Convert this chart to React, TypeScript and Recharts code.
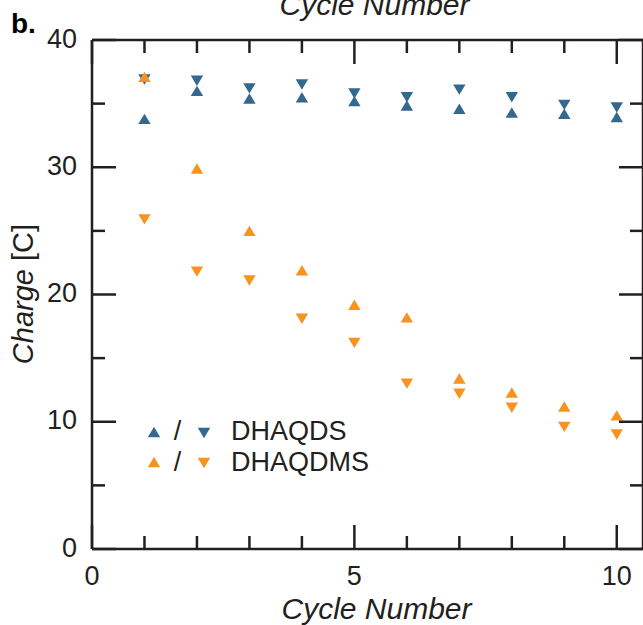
import React from "react";
import { ScatterChart, Scatter, XAxis, YAxis, Legend, Label } from "recharts";

const cycles = [1, 2, 3, 4, 5, 6, 7, 8, 9, 10];
const dhaqdsUp = [33.8, 36.0, 35.4, 35.5, 35.2, 34.85, 34.6, 34.3, 34.2, 33.95];
const dhaqdsDown = [36.9, 36.8, 36.2, 36.5, 35.8, 35.5, 36.1, 35.5, 34.9, 34.7];
const dhaqdmsUp = [37.1, 29.9, 25.0, 21.9, 19.2, 18.2, 13.4, 12.3, 11.2, 10.5];
const dhaqdmsDown = [25.9, 21.8, 21.1, 18.1, 16.2, 13.0, 12.2, 11.1, 9.6, 9.0];

const xTicks = [0, 1, 2, 3, 4, 5, 6, 7, 8, 9, 10];
const yTicks = [0, 5, 10, 15, 20, 25, 30, 35, 40];
const xLabelTicks = [0, 5, 10];
const yLabelTicks = [0, 10, 20, 30, 40];

const BLUE = "#33698f";
const ORANGE = "#f7931e";
const INK = "#231f20";
const FONT = "'Liberation Sans', Arial, Helvetica, sans-serif";

const toPoints = (ys: number[]) => cycles.map((c, i) => ({ x: c, y: ys[i] }));

const UpTri = (props: any) => {
  const { cx, cy, fill } = props;
  if (cx == null || cy == null) return null;
  const w = 6.2, h = 5.2;
  return <polygon points={`${cx},${cy - h} ${cx - w},${cy + h} ${cx + w},${cy + h}`} fill={fill} />;
};
const DownTri = (props: any) => {
  const { cx, cy, fill } = props;
  if (cx == null || cy == null) return null;
  const w = 6.2, h = 5.2;
  return <polygon points={`${cx},${cy + h} ${cx - w},${cy - h} ${cx + w},${cy - h}`} fill={fill} />;
};

const BottomTick = (props: any) => {
  const { x, y, payload } = props;
  const v = payload.value;
  const major = v % 5 === 0;
  return (
    <g>
      <line x1={x} x2={x} y1={y} y2={y - (major ? 24 : 13)} stroke={INK} strokeWidth={2.5} />
      {xLabelTicks.includes(v) && (
        <text x={x} y={y + 35.5} textAnchor="middle" fontSize={27} fontFamily={FONT} fill={INK}>
          {v}
        </text>
      )}
    </g>
  );
};
const TopTick = (props: any) => {
  const { x, y, payload } = props;
  const major = payload.value % 5 === 0;
  return <line x1={x} x2={x} y1={y} y2={y + (major ? 24 : 13)} stroke={INK} strokeWidth={2.5} />;
};
const LeftTick = (props: any) => {
  const { x, y, payload } = props;
  const v = payload.value;
  const major = v % 10 === 0;
  return (
    <g>
      <line x1={x} x2={x + (major ? 24 : 13)} y1={y} y2={y} stroke={INK} strokeWidth={2.5} />
      {yLabelTicks.includes(v) && (
        <text x={x - 15} y={y + 7.5} textAnchor="end" fontSize={27} fontFamily={FONT} fill={INK}>
          {v}
        </text>
      )}
    </g>
  );
};
const RightTick = (props: any) => {
  const { x, y, payload } = props;
  const major = payload.value % 10 === 0;
  return <line x1={x} x2={x - (major ? 24 : 13)} y1={y} y2={y} stroke={INK} strokeWidth={2.5} />;
};

const LegendContent = () => (
  <svg width={260} height={72} style={{ display: "block" }}>
    <UpTri cx={14} cy={22} fill={BLUE} />
    <text x={37.5} y={30} textAnchor="middle" fontSize={27} fontFamily={FONT} fill={INK}>/</text>
    <DownTri cx={64} cy={23} fill={BLUE} />
    <text x={91} y={30} fontSize={27} fontFamily={FONT} fill={INK}>DHAQDS</text>
    <UpTri cx={14} cy={52} fill={ORANGE} />
    <text x={37.5} y={61} textAnchor="middle" fontSize={27} fontFamily={FONT} fill={INK}>/</text>
    <DownTri cx={64} cy={53} fill={ORANGE} />
    <text x={91} y={61} fontSize={27} fontFamily={FONT} fill={INK}>DHAQDMS</text>
  </svg>
);

export default function App() {
  return (
    <div style={{ position: "absolute", left: 0, top: 0, width: 643, height: 625, overflow: "hidden", background: "#fff" }}>
      <ScatterChart width={645} height={625} margin={{ top: 30, right: 0, bottom: 46, left: 32 }}>
        <XAxis
          xAxisId={0}
          type="number"
          dataKey="x"
          domain={[0, 10.5]}
          ticks={xTicks}
          interval={0}
          allowDataOverflow
          orientation="bottom"
          height={30}
          tickSize={0}
          tickMargin={0}
          tickLine={false}
          axisLine={{ stroke: INK, strokeWidth: 2.5 }}
          tick={<BottomTick />}
        >
          <Label
            content={(p: any) => {
              const vb = p.viewBox || { x: 92, y: 549, width: 551 };
              return (
                <text x={vb.x + vb.width / 2 + 9} y={vb.y + 70} textAnchor="middle" fontSize={30} fontStyle="italic" fontFamily={FONT} fill={INK}>
                  Cycle Number
                </text>
              );
            }}
          />
        </XAxis>
        <XAxis
          xAxisId="top"
          type="number"
          dataKey="x"
          domain={[0, 10.5]}
          ticks={xTicks}
          interval={0}
          allowDataOverflow
          orientation="top"
          height={10}
          tickSize={0}
          tickMargin={0}
          tickLine={false}
          axisLine={{ stroke: INK, strokeWidth: 2.5 }}
          tick={<TopTick />}
        >
          <Label
            content={(p: any) => {
              const vb = p.viewBox || { x: 92, y: 30, width: 551 };
              return (
                <g>
                  <text x={vb.x + vb.width / 2 + 7} y={vb.y - 15} textAnchor="middle" fontSize={30} fontStyle="italic" fontFamily={FONT} fill={INK}>
                    Cycle Number
                  </text>
                  <text x={11} y={33} fontSize={28} fontWeight="bold" fontFamily={FONT} fill="#000">
                    b.
                  </text>
                </g>
              );
            }}
          />
        </XAxis>
        <YAxis
          yAxisId={0}
          type="number"
          dataKey="y"
          domain={[0, 40]}
          ticks={yTicks}
          interval={0}
          allowDataOverflow
          orientation="left"
          width={60}
          tickSize={0}
          tickMargin={0}
          tickLine={false}
          axisLine={{ stroke: INK, strokeWidth: 2.5 }}
          tick={<LeftTick />}
        >
          <Label
            content={(p: any) => {
              const vb = p.viewBox || { x: 32, y: 40, height: 509 };
              const cx = 33;
              const cy = vb.y + vb.height / 2 - 0.5;
              return (
                <text x={cx} y={cy} textAnchor="middle" fontSize={29} fontFamily={FONT} fill={INK} transform={`rotate(-90, ${cx}, ${cy})`}>
                  <tspan fontStyle="italic">Charge</tspan>
                  <tspan> [C]</tspan>
                </text>
              );
            }}
          />
        </YAxis>
        <YAxis
          yAxisId="right"
          type="number"
          dataKey="y"
          domain={[0, 40]}
          ticks={yTicks}
          interval={0}
          allowDataOverflow
          orientation="right"
          width={2}
          tickSize={0}
          tickMargin={0}
          tickLine={false}
          axisLine={{ stroke: INK, strokeWidth: 2.5 }}
          tick={<RightTick />}
        />
        <Legend
          layout="horizontal"
          verticalAlign="middle"
          align="center"
          content={<LegendContent />}
          wrapperStyle={{ left: 140, top: 410, width: 260, height: 72 }}
        />
        <Scatter name="DHAQDS charge" data={toPoints(dhaqdsUp)} fill={BLUE} shape={<UpTri />} isAnimationActive={false} legendType="none" />
        <Scatter name="DHAQDS discharge" data={toPoints(dhaqdsDown)} fill={BLUE} shape={<DownTri />} isAnimationActive={false} legendType="none" />
        <Scatter name="DHAQDMS discharge" data={toPoints(dhaqdmsDown)} fill={ORANGE} shape={<DownTri />} isAnimationActive={false} legendType="none" />
        <Scatter name="DHAQDMS charge" data={toPoints(dhaqdmsUp)} fill={ORANGE} shape={<UpTri />} isAnimationActive={false} legendType="none" />
      </ScatterChart>
    </div>
  );
}
